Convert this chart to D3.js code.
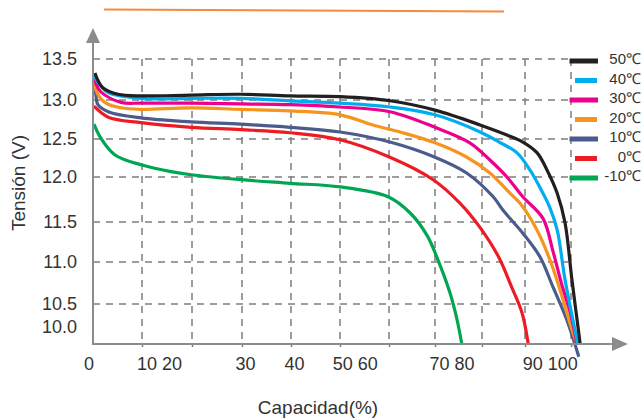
<!DOCTYPE html>
<html>
<head>
<meta charset="utf-8">
<script src="https://cdn.jsdelivr.net/npm/d3@7"></script>
<style>
  html, body { margin: 0; padding: 0; background: #fff; }
  svg { display: block; font-family: "Liberation Sans", Arial, sans-serif; }
</style>
</head>
<body>
<svg id="chart" width="643" height="419"></svg>
<script>
// ---------- data ----------
const seriesNames = ["50℃", "40℃", "30℃", "20℃", "10℃", "0℃", "-10℃"];
const seriesColors = ["#231f20", "#00aeef", "#ec008c", "#f7941d", "#4b5b8b", "#ed1c24", "#00a651"];

const t50 = [[0.4,13.33],[1.0,13.24],[2.0,13.15],[5.1,13.07],[9.8,13.05],[19.8,13.06],[29.8,13.07],[39.8,13.05],[50,13.04],[60.2,12.99],[70,12.87],[79.6,12.68],[85.8,12.55],[89.5,12.46],[92.6,12.32],[94.8,12.09],[97.0,11.82],[98.7,11.49],[100.2,10.79],[102,10.0]];
const t40 = [[0.2,13.29],[1.2,13.20],[3.1,13.09],[9.8,13.02],[19.8,13.02],[29.8,13.02],[39.8,12.99],[50,12.96],[60.2,12.91],[70,12.81],[79.6,12.59],[84.0,12.46],[88.1,12.32],[91.1,12.09],[93.9,11.82],[95.4,11.66],[97.0,11.40],[98.7,10.79],[101.5,10.0]];
const t30 = [[0.2,13.30],[0.6,13.20],[1.6,13.10],[5.7,12.97],[9.8,12.96],[19.8,12.96],[29.8,12.95],[39.8,12.94],[50,12.91],[60.2,12.85],[70,12.65],[77.4,12.45],[81.9,12.22],[85.8,12.0],[89.5,11.78],[93.9,11.54],[96.1,11.13],[98.0,10.73],[99.8,10.40],[101.3,10.0]];
const t20 = [[0.4,13.22],[0.6,13.12],[2.4,12.97],[5.7,12.90],[9.8,12.88],[19.8,12.90],[29.8,12.88],[39.8,12.86],[50,12.81],[56.7,12.68],[62.4,12.59],[70,12.45],[76.8,12.26],[81.9,12.05],[86.5,11.82],[88.8,11.71],[92.6,11.40],[95.4,11.03],[97.6,10.67],[100.2,10.18],[101.3,10.0]];
const t10 = [[0.2,13.24],[0.6,13.06],[1.0,12.94],[3.1,12.85],[9.8,12.77],[19.8,12.72],[29.8,12.69],[39.8,12.65],[50,12.59],[60.2,12.46],[70,12.26],[76.8,12.05],[82.6,11.78],[84.9,11.63],[89.5,11.36],[93.3,11.06],[96.1,10.70],[99.1,10.30],[101.7,9.84]];
const t0 = [[0.2,12.92],[3.1,12.78],[9.8,12.71],[19.8,12.65],[29.8,12.62],[39.8,12.58],[50,12.49],[60.2,12.26],[69.6,11.97],[75.3,11.71],[79.6,11.43],[83.9,11.06],[86.9,10.70],[89.3,10.39],[90.7,10.0]];
const tm10 = [[0.2,12.69],[1.6,12.51],[4.5,12.29],[9.8,12.16],[15.8,12.07],[19.8,12.03],[29.8,11.97],[39.8,11.93],[50,11.89],[59.8,11.78],[64.6,11.60],[68.3,11.33],[70.6,11.03],[73.2,10.63],[74.7,10.30],[75.7,10.0]];
const seriesData = [t50, t40, t30, t20, t10, t0, tm10];

const xGridValues = [0,10,20,30,40,50,60,70,80,90,100];
const xTickLabels = ["0", "10 20", "30", "40", "50 60", "70 80", "90 100"];
const xTickLabelAt = [-0.8, 13.5, 30.7, 40.7, 53.1, 73.6, 95.5];
const yTickValues = [10.0, 10.5, 11.0, 11.5, 12.0, 12.5, 13.0, 13.5];
const yTickLabels = ["10.0", "10.5", "11.0", "11.5", "12.0", "12.5", "13.0", "13.5"];
const xTitle = "Capacidad(%)";
const yTitle = "Tensión (V)";

// ---------- scales ----------
const x = d3.scaleLinear().domain(xGridValues)
  .range([93,142,192,242,291,340,389,435,482,525,571]);
const y = d3.scaleLinear().domain(yTickValues)
  .range([344,304,262,222,177,139,100,59]);

const svg = d3.select("#chart");
const axisColor = "#8c8c8c";
const gridColor = "#7d7d7d";
const textColor = "#333333";

// decorative top stroke
svg.append("line").attr("x1",104).attr("y1",9.5).attr("x2",504).attr("y2",11.5)
  .attr("stroke","#f58b3e").attr("stroke-width",2);

// ---------- grid ----------
const grid = svg.append("g");
grid.selectAll("line.h").data(yTickValues.filter(v => v > yTickValues[0]))
  .join("line").attr("class","h")
  .attr("x1", x(0)).attr("x2", x(100))
  .attr("y1", d => y(d)).attr("y2", d => y(d))
  .attr("stroke", gridColor).attr("stroke-width",1.5).attr("stroke-dasharray","7,6");
grid.selectAll("line.v").data(xGridValues.slice(1))
  .join("line").attr("class","v")
  .attr("x1", d => x(d)).attr("x2", d => x(d))
  .attr("y1", y(13.5)).attr("y2", y(10))
  .attr("stroke", gridColor).attr("stroke-width",1.5).attr("stroke-dasharray","7,6");

// ---------- curves ----------
const line = d3.line().x(d => x(d[0])).y(d => y(d[1])).curve(d3.curveCatmullRom.alpha(0.5));
const order = d3.range(seriesData.length).reverse();
svg.append("g").selectAll("path").data(order).join("path")
  .attr("d", i => line(seriesData[i]))
  .attr("fill","none")
  .attr("stroke", i => seriesColors[i])
  .attr("stroke-width", 3.2)
  .attr("stroke-linejoin","round");

// ---------- axes ----------
const xAxisG = svg.append("g").attr("transform", `translate(0,${y(10)})`)
  .call(d3.axisBottom(x).tickValues(xGridValues.slice(1)).tickSizeInner(3).tickSizeOuter(0).tickFormat(""));
xAxisG.select(".domain").remove();
xAxisG.selectAll(".tick line").attr("stroke", gridColor).attr("stroke-width",1.5);

svg.append("line").attr("x1", x(0)).attr("x2", 616).attr("y1", y(10)).attr("y2", y(10))
  .attr("stroke", axisColor).attr("stroke-width", 2);
svg.append("path").attr("d", `M628,${y(10)} L612,${y(10)-7} L612,${y(10)+7} Z`).attr("fill", axisColor);

svg.append("line").attr("x1", x(0)).attr("x2", x(0)).attr("y1", y(10)+1).attr("y2", 40)
  .attr("stroke", axisColor).attr("stroke-width", 2);
svg.append("path").attr("d", `M${x(0)},28 L${x(0)-7},43 L${x(0)+7},43 Z`).attr("fill", axisColor);

// tick labels
svg.append("g").selectAll("text").data(yTickValues).join("text")
  .attr("x", 77)
  .attr("y", (d,i) => i === 0 ? y(d) - 17 : y(d))
  .attr("dy","0.35em")
  .attr("text-anchor","end")
  .attr("font-size", 18)
  .attr("fill", textColor)
  .text((d,i) => yTickLabels[i]);

svg.append("g").selectAll("text").data(xTickLabels).join("text")
  .attr("x", (d,i) => x(xTickLabelAt[i]))
  .attr("y", 364)
  .attr("dy","0.35em")
  .attr("text-anchor","middle")
  .attr("font-size", 18)
  .attr("fill", textColor)
  .text(d => d);

// titles
svg.append("text").attr("x", 318).attr("y", 407).attr("dy","0.35em")
  .attr("text-anchor","middle").attr("font-size", 19).attr("fill", textColor).text(xTitle);
svg.append("text").attr("transform","translate(18,183) rotate(-90)").attr("dy","0.35em")
  .attr("text-anchor","middle").attr("font-size", 19).attr("fill", textColor).text(yTitle);

// ---------- legend ----------
const legend = svg.append("g");
const legItems = legend.selectAll("g").data(seriesNames).join("g")
  .attr("transform", (d,i) => `translate(0,${61 + i*19.5})`);
legItems.append("rect")
  .attr("x", (d,i) => i % 2 ? 575 : 569.5)
  .attr("y", -2.5)
  .attr("width", (d,i) => i % 2 ? 22 : 28.5)
  .attr("height", 5)
  .attr("fill", (d,i) => seriesColors[i]);
legItems.append("text")
  .attr("x", 641).attr("y", -2).attr("dy","0.35em")
  .attr("text-anchor","end").attr("font-size", 15).attr("fill", textColor)
  .text(d => d);
</script>
</body>
</html>
